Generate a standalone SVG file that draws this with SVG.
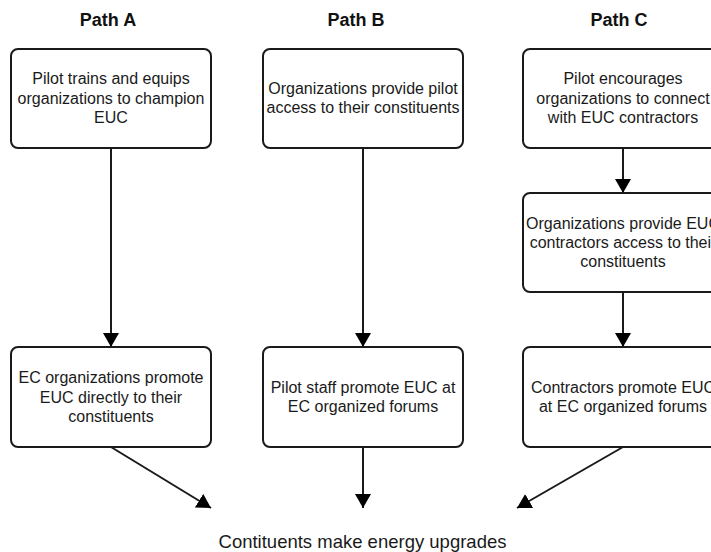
<svg xmlns="http://www.w3.org/2000/svg" width="711" height="552" viewBox="0 0 711 552">
<style>
  .box { fill: #ffffff; stroke: #1a1a1a; stroke-width: 2; }
  .t { font-family: "Liberation Sans", Arial, sans-serif; font-size: 16px; fill: #1a1a1a; text-anchor: middle; }
  .h { font-family: "Liberation Sans", Arial, sans-serif; font-size: 18px; font-weight: bold; fill: #111111; text-anchor: middle; }
  .f { font-family: "Liberation Sans", Arial, sans-serif; font-size: 18.5px; fill: #1a1a1a; text-anchor: middle; }
  .c { stroke: #1a1a1a; stroke-width: 2; fill: none; marker-end: url(#ah); }
</style>
<defs>
  <marker id="ah" markerUnits="userSpaceOnUse" markerWidth="16" markerHeight="16" refX="14" refY="8" orient="auto">
    <path d="M0,0 L14,8 L0,16 Z" fill="#000000"/>
  </marker>
</defs>
<rect width="711" height="552" fill="#ffffff"/>

<g id="headers">
  <text class="h" x="108" y="26">Path A</text>
  <text class="h" x="356" y="26">Path B</text>
  <text class="h" x="619" y="26">Path C</text>
</g>

<g id="connectors">
  <line class="c" x1="111" y1="148" x2="111" y2="347"/>
  <line class="c" x1="363" y1="148" x2="363" y2="347"/>
  <line class="c" x1="623" y1="148" x2="623" y2="193"/>
  <line class="c" x1="623" y1="292" x2="623" y2="347"/>
  <line class="c" x1="111" y1="447" x2="211" y2="508"/>
  <line class="c" x1="363" y1="447" x2="363" y2="508"/>
  <line class="c" x1="623" y1="447" x2="517" y2="508"/>
</g>

<g id="a1">
  <rect class="box" x="11" y="49" width="200" height="99" rx="7"/>
  <text class="t" x="111" y="84">Pilot trains and equips</text>
  <text class="t" x="111" y="103.5">organizations to champion</text>
  <text class="t" x="111" y="123">EUC</text>
</g>
<g id="b1">
  <rect class="box" x="263" y="49" width="200" height="99" rx="7"/>
  <text class="t" x="363" y="94">Organizations provide pilot</text>
  <text class="t" x="363" y="113">access to their constituents</text>
</g>
<g id="c1">
  <rect class="box" x="523" y="49" width="200" height="99" rx="7"/>
  <text class="t" x="623" y="84">Pilot encourages</text>
  <text class="t" x="623" y="103.5">organizations to connect</text>
  <text class="t" x="623" y="123">with EUC contractors</text>
</g>
<g id="c2">
  <rect class="box" x="523" y="193" width="200" height="99" rx="7"/>
  <text class="t" x="623" y="229">Organizations provide EUC</text>
  <text class="t" x="623" y="248">contractors access to their</text>
  <text class="t" x="623" y="267">constituents</text>
</g>
<g id="a2">
  <rect class="box" x="11" y="347" width="200" height="100" rx="7"/>
  <text class="t" x="111" y="383">EC organizations promote</text>
  <text class="t" x="111" y="402.5">EUC directly to their</text>
  <text class="t" x="111" y="422">constituents</text>
</g>
<g id="b2">
  <rect class="box" x="263" y="347" width="200" height="100" rx="7"/>
  <text class="t" x="363" y="393">Pilot staff promote EUC at</text>
  <text class="t" x="363" y="412">EC organized forums</text>
</g>
<g id="c3">
  <rect class="box" x="523" y="347" width="200" height="100" rx="7"/>
  <text class="t" x="623" y="393">Contractors promote EUC</text>
  <text class="t" x="623" y="412">at EC organized forums</text>
</g>
<g id="outcome">
  <text class="f" x="362.5" y="548">Contituents make energy upgrades</text>
</g>
</svg>
